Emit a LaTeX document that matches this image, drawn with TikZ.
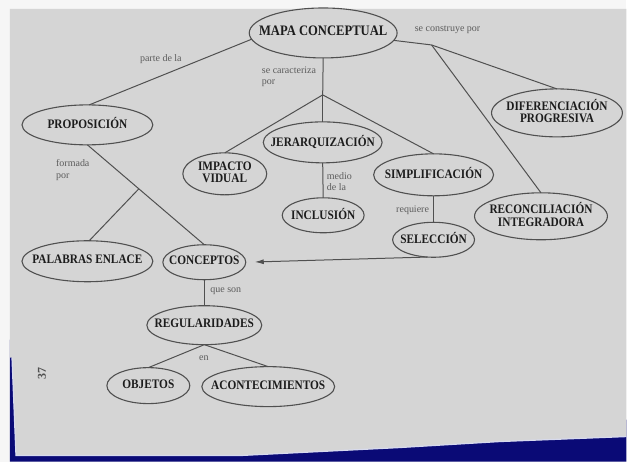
\documentclass[tikz,border=0pt]{standalone}
\usepackage{fontspec}
\setmainfont{Liberation Serif}
\newfontfamily\mapfont{Liberation Serif}[FakeStretch=0.87]
\usetikzlibrary{shapes.geometric,arrows.meta}

\definecolor{paper}{RGB}{213,213,213}
\definecolor{margin}{RGB}{246,246,246}
\definecolor{cover}{RGB}{10,10,118}
\definecolor{edgeglow}{RGB}{215,218,238}
\definecolor{ink}{RGB}{80,80,80}
\definecolor{boxtext}{RGB}{28,28,28}
\definecolor{linktext}{RGB}{92,92,92}

% centred text of zero width, so the ellipse keeps its given size
\newcommand{\cbox}[1]{\makebox[0pt][c]{\renewcommand\arraystretch{0.82}\begin{tabular}{@{}c@{}}#1\end{tabular}}}

\tikzset{
  concept/.style={ellipse, draw=ink, line width=1.1pt, inner sep=0pt, outer sep=0pt,
    font=\mapfont\fontsize{13}{15}\selectfont\bfseries, text=boxtext},
  link/.style={draw=ink, line width=1pt},
  linklabel/.style={font=\fontsize{10}{11.5}\selectfont, text=linktext, inner sep=0pt, align=left},
}

\begin{document}
\begin{tikzpicture}[x=1pt,y=-1pt]
  % page, margins and cover
  \fill[margin] (0,0) rectangle (627,462);
  \fill[cover] (10,340) -- (627,420) -- (627,462) -- (10,462) -- cycle;
  \fill[paper] (10,9) -- (627,9) -- (627,437) -- (500,442) -- (400,448) -- (240,456)
    -- (16,456) -- (12,358) -- (10,358) -- cycle;
  \draw[edgeglow, line width=1.2pt] (12,358) -- (16,456) -- (240,456) -- (400,448)
    -- (500,442) -- (627,437);
  \useasboundingbox (0,0) rectangle (627,462);

  % concepts
  \node[concept, minimum width=148pt, minimum height=50pt] (mapa) at (323.5,33)
    {\cbox{\fontsize{14.5}{16}\selectfont MAPA CONCEPTUAL}};
  \node[concept, minimum width=131pt, minimum height=40pt] (prop) at (87.5,125) {\cbox{PROPOSICIÓN}};
  \node[concept, minimum width=131pt, minimum height=48pt] (dif) at (557.5,113)
    {\cbox{DIFERENCIACIÓN\\PROGRESIVA}};
  \node[concept, minimum width=119pt, minimum height=41pt] (jer) at (323,142.5) {\cbox{JERARQUIZACIÓN}};
  \node[concept, minimum width=84pt, minimum height=42pt] (imp) at (225,174) {\cbox{IMPACTO\\VIDUAL}};
  \node[concept, minimum width=120pt, minimum height=42pt] (simp) at (434,175) {\cbox{SIMPLIFICACIÓN}};
  \node[concept, minimum width=133pt, minimum height=47pt] (rec) at (541.5,216.5)
    {\cbox{RECONCILIACIÓN\\INTEGRADORA}};
  \node[concept, minimum width=82pt, minimum height=35pt] (inc) at (323.5,215.5) {\cbox{INCLUSIÓN}};
  \node[concept, minimum width=82pt, minimum height=35pt] (sel) at (434,240) {\cbox{SELECCIÓN}};
  \node[concept, minimum width=131pt, minimum height=41pt] (pal) at (87.5,261.5) {\cbox{PALABRAS ENLACE}};
  \node[concept, minimum width=83pt, minimum height=35pt] (conc) at (204.5,262.5) {\cbox{CONCEPTOS}};
  \node[concept, minimum width=115pt, minimum height=39pt] (reg) at (204.5,325.5) {\cbox{REGULARIDADES}};
  \node[concept, minimum width=83pt, minimum height=36pt] (obj) at (148.5,386) {\cbox{OBJETOS}};
  \node[concept, minimum width=133pt, minimum height=40pt] (acon) at (268.5,387) {\cbox{ACONTECIMIENTOS}};

  % branch points
  \coordinate (cara) at (323,95);
  \coordinate (cons) at (432,45);

  % connectors
  \draw[link] (mapa.185) -- (prop.85);
  \draw[link] (mapa.south) -- (cara);
  \draw[link] (cara) -- (imp.north);
  \draw[link] (cara) -- (jer.north);
  \draw[link] (cara) -- (simp.north);
  \draw[link] (mapa.354) -- (cons);
  \draw[link] (cons) -- (dif.north);
  \draw[link] (cons) -- (rec.north);
  \draw[link] (jer.south) -- (inc.north);
  \draw[link] (simp.south) -- (sel.north);
  \draw[link, -{Latex[length=9pt,width=5pt]}, shorten >=9pt] (sel.250) -- (conc.east);
  \draw[link] (prop.south) -- coordinate[pos=0.44] (form) (conc.north);
  \draw[link] (form) -- (pal.85);
  \draw[link] (conc.south) -- (reg.north);
  \draw[link] (reg.south) -- (obj.north);
  \draw[link] (reg.south) -- (acon.north);

  % linking words
  \node[linklabel] (l1) at (161,59) {parte de la};
  \node[linklabel, anchor=west] (l2) at (262,77) {se caracteriza\\por};
  \node[linklabel] (l3) at (448,30) {se construye por};
  \node[linklabel, anchor=west] (l4) at (56,170) {formada\\por};
  \node[linklabel, anchor=west] (l5) at (327,182) {medio\\de la};
  \node[linklabel] (l6) at (413,210) {requiere};
  \node[linklabel] (l7) at (226,291) {que son};
  \node[linklabel] (l8) at (204,359) {en};

  % page number
  \node[font=\fontsize{12}{14}\selectfont\bfseries, text=ink, rotate=90] (pgno) at (42,374) {37};
\end{tikzpicture}
\end{document}
